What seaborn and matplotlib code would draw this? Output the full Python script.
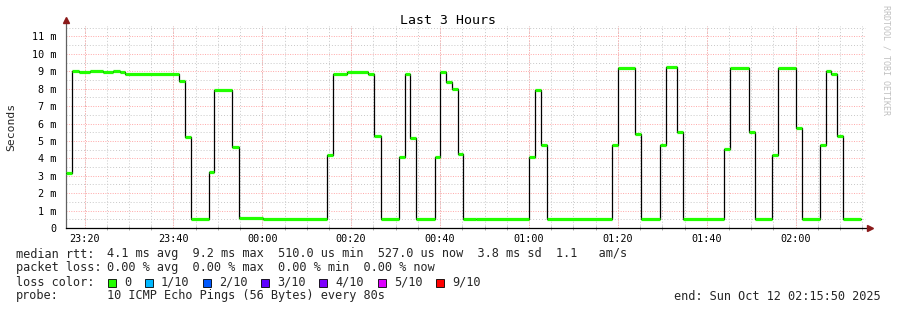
import matplotlib
matplotlib.use("Agg")
import matplotlib.pyplot as plt
import seaborn as sns
import pandas as pd
import numpy as np

# ---- data (minutes after 23:15:50, median rtt in ms) ----
seg_start_min = [0.0, 1.46, 2.97, 5.44, 8.37, 10.62, 12.19, 13.32,
                 25.53, 26.88, 28.23, 32.14, 33.40, 37.45, 38.89, 44.29,
                 58.82, 60.17, 63.18, 68.04, 69.32, 70.83, 74.88, 76.23, 77.49, 78.84,
                 82.97, 84.23, 85.45, 86.80, 88.15, 89.41, 92.26,
                 104.12, 105.47, 106.82, 108.17,
                 122.78, 124.13, 128.09, 129.44,
                 133.58, 134.93, 137.54, 138.89,
                 148.11, 149.46, 153.60, 154.95,
                 158.77, 160.12, 164.17, 165.52,
                 169.57, 170.92, 172.18, 173.53, 174.88]
seg_value_ms = [3.15, 9.0, 8.95, 9.0, 8.95, 9.0, 8.95, 8.87,
                8.47, 5.25, 0.5, 3.2, 7.93, 4.67, 0.55, 0.5,
                4.18, 8.87, 8.93, 8.87, 5.29, 0.5, 4.06, 8.87, 5.17, 0.5,
                4.08, 8.93, 8.39, 7.97, 4.25, 0.53, 0.5,
                4.1, 7.91, 4.77, 0.5,
                4.75, 9.21, 5.4, 0.5,
                4.77, 9.25, 5.52, 0.5,
                4.56, 9.21, 5.5, 0.5,
                4.2, 9.21, 5.73, 0.5,
                4.75, 9.04, 8.83, 5.3, 0.5]
data_end_min = 178.87

x_tick_labels = ["23:20", "23:40", "00:00", "00:20", "00:40", "01:00", "01:20", "01:40", "02:00"]
y_tick_values = list(range(0, 12))
y_tick_labels = ["0"] + [f"{v} m" for v in range(1, 12)]

loss_labels = ["0", "1/10", "2/10", "3/10", "4/10", "5/10", "9/10"]
loss_colors = ["#22ff00", "#00b8ff", "#0059ff", "#5e00ff", "#7e00ff", "#dd00ff", "#ff0000"]

stats_line1 = "4.1 ms avg  9.2 ms max  510.0 us min  527.0 us now  3.8 ms sd  1.1   am/s"
stats_line2 = "0.00 % avg  0.00 % max  0.00 % min  0.00 % now"
probe_text = "10 ICMP Echo Pings (56 Bytes) every 80s"
end_text = "end: Sun Oct 12 02:15:50 2025"

# ---- figure ----
sns.set_theme(style="white")
plt.rcParams["font.family"] = ["DejaVu Sans Mono", "DejaVu Sans"]

W, H = 897, 310
fig = plt.figure(figsize=(W / 100, H / 100), dpi=100)
fig.patch.set_facecolor("white")
ax_l, ax_r, ax_b, ax_t = 66, 866, 228, 26
ax = fig.add_axes([ax_l / W, (H - ax_b) / H, (ax_r - ax_l) / W, (ax_b - ax_t) / H])
ax.set_facecolor("white")

x_total = 180.0
ax.set_xlim(0, x_total)
ax.set_ylim(0, 11.6)

first_tick = 4.1667
major = [first_tick + 20 * i for i in range(len(x_tick_labels))]
minor = [first_tick + 5 * i for i in range(36) if first_tick + 5 * i < x_total]

# grids
for m in minor:
    ax.axvline(m, color="#c8c8c8", lw=0.7, ls=(0, (1, 2)), zorder=1)
for yv in np.arange(0.5, 11.6, 1.0):
    ax.axhline(yv, color="#c8c8c8", lw=0.7, ls=(0, (1, 2)), zorder=1)
for m in major:
    ax.axvline(m, color="#ffa8a8", lw=0.7, ls=(0, (1, 1.5)), zorder=1)
for yv in range(1, 12):
    ax.axhline(yv, color="#ffa8a8", lw=0.7, ls=(0, (1, 1.5)), zorder=1)

# black step line
xs = seg_start_min + [data_end_min]
ys = seg_value_ms + [seg_value_ms[-1]]
df = pd.DataFrame({"t": xs, "v": ys})
sns.lineplot(data=df, x="t", y="v", ax=ax, color="black", lw=0.9,
             drawstyle="steps-post", zorder=3, estimator=None, sort=False)

# green loss-colored median segments
ax.hlines(seg_value_ms, seg_start_min, seg_start_min[1:] + [data_end_min],
          color=loss_colors[0], lw=2.3, zorder=4)

# axes styling
for s in ["top", "right"]:
    ax.spines[s].set_visible(False)
ax.spines["bottom"].set_color("black")
ax.spines["bottom"].set_linewidth(0.9)
ax.spines["left"].set_color("#606060")
ax.spines["left"].set_linewidth(0.9)
ax.spines["left"].set_bounds(0, 11.9)
ax.spines["bottom"].set_bounds(0, 180.9)

ax.set_xticks(major)
ax.set_xticklabels(x_tick_labels)
ax.set_xticks(minor, minor=True)
ax.set_yticks(y_tick_values)
ax.set_yticklabels(y_tick_labels)
ax.tick_params(axis="x", which="major", direction="inout", length=4, width=0.7,
               colors="#ff6060", labelcolor="black", labelsize=7.3, pad=2)
ax.tick_params(axis="x", which="minor", direction="inout", length=3, width=0.6,
               colors="#a0a0a0", bottom=True)
ax.tick_params(axis="y", which="major", direction="inout", length=4, width=0.7,
               colors="#808080", labelcolor="black", labelsize=7.3, pad=5)
ax.set_xlabel("")
ax.set_ylabel("")

# axis arrows
ax.plot([0], [11.95], marker="^", color="#8b1a1a", markersize=4, clip_on=False, zorder=6)
ax.plot([181.0], [0], marker=">", color="#8b1a1a", markersize=4, clip_on=False, zorder=6)

# texts
def px(x, y):
    return x / W, 1 - y / H

fig.text(*px(448, 20), "Last 3 Hours", ha="center", va="center", fontsize=9.5, color="black")
fig.text(*px(11, 127), "Seconds", ha="center", va="center", rotation=90, fontsize=8.2)
fig.text(*px(886, 5), "RRDTOOL / TOBI OETIKER", ha="center", va="top", rotation=-90,
         fontsize=6.0, color="#c0c0c0")

fs = 8.55
rows = [254, 268, 282, 296]
fig.text(*px(16, rows[0]), "median rtt:", va="center", fontsize=fs)
fig.text(*px(107, rows[0]), stats_line1, va="center", fontsize=fs)
fig.text(*px(16, rows[1]), "packet loss:", va="center", fontsize=fs)
fig.text(*px(107, rows[1]), stats_line2, va="center", fontsize=fs)
fig.text(*px(16, rows[2]), "loss color:", va="center", fontsize=fs)
sq_x = [108, 145, 203, 261, 319, 378, 436]
for sx, lab, col in zip(sq_x, loss_labels, loss_colors):
    fig.patches.append(plt.Rectangle(((sx) / W, 1 - (rows[2] + 4.5) / H), 8 / W, 8 / H,
                                     transform=fig.transFigure, facecolor=col,
                                     edgecolor="black", lw=0.6))
    fig.text(*px(sx + 16, rows[2]), lab, va="center", fontsize=fs)
fig.text(*px(16, rows[3]), "probe:", va="center", fontsize=fs)
fig.text(*px(107, rows[3]), probe_text, va="center", fontsize=fs)
fig.text(*px(881, rows[3]), end_text, va="center", ha="right", fontsize=fs)

fig.savefig("out.png", dpi=100, facecolor="white")
